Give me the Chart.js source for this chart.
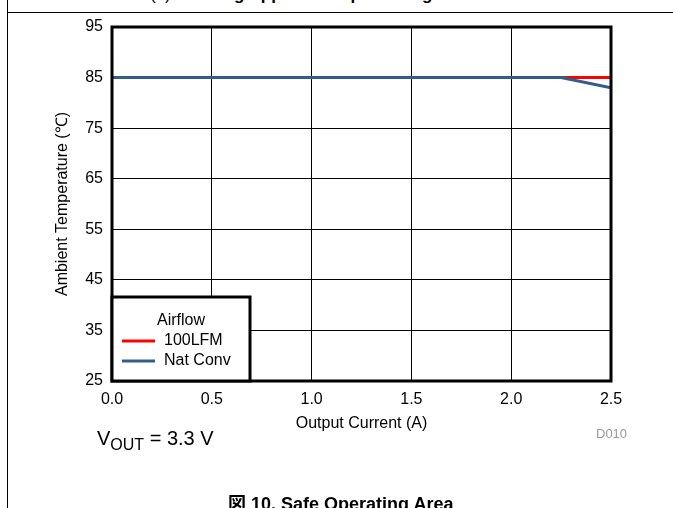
<!DOCTYPE html>
<html>
<head>
<meta charset="utf-8">
<script src="https://cdn.jsdelivr.net/npm/chart.js@4.4.0/dist/chart.umd.min.js"></script>
<style>
  html, body { margin: 0; padding: 0; background: #fff; }
  body { width: 673px; height: 508px; position: relative; overflow: hidden; font-family: "Liberation Sans", Arial, sans-serif; }
  #wrap { position: absolute; left: 0; top: 0; width: 673px; height: 508px; }
  .frame-v { position: absolute; left: 7px; top: 0; width: 1px; height: 508px; background: #000; }
  .frame-h { position: absolute; left: 7px; top: 12px; width: 666px; height: 1px; background: #000; }
  .txt { position: absolute; white-space: nowrap; color: #000; }
</style>
</head>
<body>
<div class="frame-v"></div>
<div class="frame-h"></div>
<div class="txt" style="left:150px; top:-15px; font-size:17px; font-weight:bold;"><span style="font-weight:normal">(1)</span> Derating Applies to Input Voltage</div>
<div id="wrap"><canvas id="grafico"></canvas></div>
<div class="txt" style="left:596px; top:426px; font-size:13px; color:#999;">D010</div>
<div class="txt" style="left:97px; top:427px; font-size:20px;">V<sub style="font-size:16px; vertical-align:-5px;">OUT</sub> = 3.3 V</div>
<div class="txt" style="left:228px; top:489px; font-size:18px; font-weight:bold;"><span style="font-family:'Noto Sans CJK JP'">図</span> 10. Safe Operating Area</div>
<script>
const current = [0, 0.5, 1.0, 1.5, 2.0, 2.25, 2.5]
const lfm100 = [85, 85, 85, 85, 85, 85, 85]
const natConv = [85, 85, 85, 85, 85, 85, 83]
const xTicks = [0, 0.5, 1.0, 1.5, 2.0, 2.5]
const yTicks = [25, 35, 45, 55, 65, 75, 85, 95]
const legendTitle = "Airflow"

const FONT = "Liberation Sans, Arial, sans-serif"

const toPoints = (ys) => current.map((x, i) => ({ x: x, y: ys[i] }))

// frame around the plot plus the boxed legend in the lower left
const boxPlugin = {
  id: "boxPlugin",
  afterDraw(chart) {
    const ctx = chart.ctx
    const a = chart.chartArea
    ctx.save()
    ctx.strokeStyle = "#000"
    ctx.lineWidth = 3
    ctx.strokeRect(a.left, a.top, a.right - a.left, a.bottom - a.top)

    const bx = a.left, by = 297, bw = 138, bh = a.bottom - 297
    ctx.fillStyle = "#fff"
    ctx.fillRect(bx, by, bw, bh)
    ctx.strokeRect(bx, by, bw, bh)

    ctx.font = "16px " + FONT
    ctx.fillStyle = "#000"
    ctx.textBaseline = "middle"
    ctx.textAlign = "center"
    ctx.fillText(legendTitle, bx + 69, by + 24)
    ctx.textAlign = "left"
    chart.data.datasets.forEach((ds, i) => {
      const y = by + 44 + i * 20
      ctx.strokeStyle = ds.borderColor
      ctx.lineWidth = 3
      ctx.beginPath()
      ctx.moveTo(bx + 10, y)
      ctx.lineTo(bx + 43, y)
      ctx.stroke()
      ctx.fillText(ds.label, bx + 52, y)
    })
    ctx.restore()
  },
}

const graph = document.querySelector("#grafico")
const data = {
  datasets: [
    {
      label: "100LFM",
      data: toPoints(lfm100),
      borderColor: "#ff0000",
      borderWidth: 3,
      pointRadius: 0,
      order: 1,
    },
    {
      label: "Nat Conv",
      data: toPoints(natConv),
      borderColor: "#315f8c",
      borderWidth: 3,
      pointRadius: 0,
      order: 0,
    },
  ],
}

const config = {
  type: "line",
  data: data,
  options: {
    responsive: false,
    animation: false,
    layout: {
      padding: { left: 53, top: 27, right: 62, bottom: 75 },
    },
    plugins: {
      legend: { display: false },
      tooltip: { enabled: false },
    },
    scales: {
      x: {
        type: "linear",
        min: 0,
        max: 2.5,
        afterBuildTicks: (s) => { s.ticks = xTicks.map((v) => ({ value: v })) },
        afterFit: (s) => { s.height = 52 },
        grid: { color: "#000", lineWidth: 1, drawTicks: false },
        border: { display: false },
        ticks: {
          padding: 9,
          color: "#000",
          font: { family: FONT, size: 16 },
          maxRotation: 0,
          callback: (v) => Number(v).toFixed(1),
        },
        title: {
          display: true,
          text: "Output Current (A)",
          color: "#000",
          font: { family: FONT, size: 16 },
          padding: 0,
        },
      },
      y: {
        min: 25,
        max: 95,
        afterBuildTicks: (s) => { s.ticks = yTicks.map((v) => ({ value: v })) },
        afterFit: (s) => { s.width = 59 },
        grid: { color: "#000", lineWidth: 1, drawTicks: false },
        border: { display: false },
        ticks: {
          padding: 9,
          color: "#000",
          font: { family: FONT, size: 16 },
        },
        title: {
          display: true,
          text: "Ambient Temperature (℃)",
          color: "#000",
          font: { family: FONT, size: 16 },
          padding: 0,
        },
      },
    },
  },
  plugins: [boxPlugin],
}

graph.width = 673
graph.height = 508
new Chart(graph, config)
</script>
</body>
</html>
